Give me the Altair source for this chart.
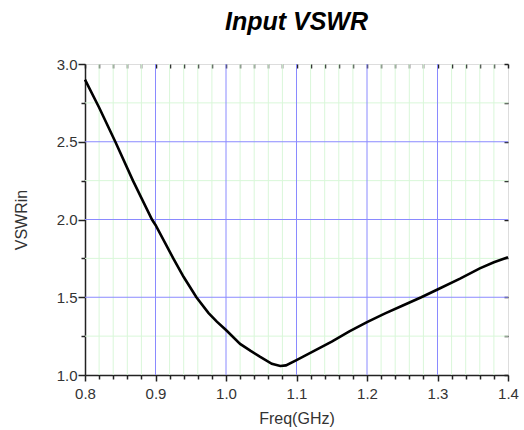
import altair as alt
import pandas as pd

freq = [0.80, 0.82, 0.843, 0.868, 0.895, 0.90, 0.925, 0.94, 0.958, 0.975, 0.987,
        1.00, 1.02, 1.035, 1.048, 1.065, 1.077, 1.085, 1.10, 1.125, 1.15, 1.175,
        1.20, 1.225, 1.25, 1.277, 1.30, 1.332, 1.36, 1.38, 1.40]
vswr = [2.90, 2.72, 2.50, 2.25, 2.00, 1.965, 1.752, 1.63, 1.50, 1.40, 1.343,
        1.289, 1.20, 1.155, 1.118, 1.072, 1.058, 1.062, 1.096, 1.155, 1.215, 1.28,
        1.34, 1.395, 1.445, 1.50, 1.55, 1.62, 1.686, 1.725, 1.757]

x_ticks = [0.80, 0.82, 0.84, 0.86, 0.88, 0.90, 0.92, 0.94, 0.96, 0.98,
           1.00, 1.02, 1.04, 1.06, 1.08, 1.10, 1.12, 1.14, 1.16, 1.18,
           1.20, 1.22, 1.24, 1.26, 1.28, 1.30, 1.32, 1.34, 1.36, 1.38, 1.40]
y_ticks = [1.0, 1.25, 1.5, 1.75, 2.0, 2.25, 2.5, 2.75, 3.0]
x_major_grid = [0.9, 1.0, 1.1, 1.2, 1.3]
y_major_grid = [1.5, 2.0, 2.5]
x_minor_grid = [v for v in x_ticks if v not in (0.8, 0.9, 1.0, 1.1, 1.2, 1.3, 1.4)]
y_minor_grid = [1.25, 1.75, 2.25, 2.75]

df = pd.DataFrame({"f": freq, "v": vswr})

FONT = "Liberation Sans"
BLUE = "#8a8aff"
GREEN = "#d9f7d9"
x_major = "abs(datum.value*10 - round(datum.value*10)) < 0.000001"
y_major = "abs(datum.value*2 - round(datum.value*2)) < 0.000001"

xscale = alt.Scale(domain=[0.8, 1.4], nice=False, zero=False)
yscale = alt.Scale(domain=[1.0, 3.0], nice=False, zero=False)

minor_x = alt.Chart(pd.DataFrame({"g": x_minor_grid})).mark_rule(
    color=GREEN, strokeWidth=1).encode(x=alt.X("g:Q", scale=xscale, axis=None))
minor_y = alt.Chart(pd.DataFrame({"g": y_minor_grid})).mark_rule(
    color=GREEN, strokeWidth=1).encode(y=alt.Y("g:Q", scale=yscale, axis=None))
major_x = alt.Chart(pd.DataFrame({"g": x_major_grid})).mark_rule(
    color=BLUE, strokeWidth=1).encode(x=alt.X("g:Q", scale=xscale, axis=None))
major_y = alt.Chart(pd.DataFrame({"g": y_major_grid})).mark_rule(
    color=BLUE, strokeWidth=1).encode(y=alt.Y("g:Q", scale=yscale, axis=None))

line = alt.Chart(df).mark_line(color="black", strokeWidth=2.6).encode(
    x=alt.X("f:Q", scale=xscale, title="Freq(GHz)",
            axis=alt.Axis(values=x_ticks, orient="bottom",
                          labelExpr=f"{x_major} ? format(datum.value, '.1f') : ''",
                          labelOverlap=False, labelFlush=False, grid=False,
                          tickSize={"condition": {"test": x_major, "value": 6}, "value": 4},
                          tickColor="#222", tickWidth=1.5,
                          domainColor="#222", domainWidth=1.5,
                          labelFont=FONT, labelFontSize=15, labelColor="#333", labelPadding=5,
                          titleFont=FONT, titleFontSize=16, titleFontWeight="normal",
                          titleColor="#333", titlePadding=9)),
    y=alt.Y("v:Q", scale=yscale, title="VSWRin",
            axis=alt.Axis(values=y_ticks, orient="left",
                          labelExpr=f"{y_major} ? format(datum.value, '.1f') : ''",
                          labelOverlap=False, labelFlush=False, grid=False,
                          tickSize={"condition": {"test": y_major, "value": 7}, "value": 4},
                          tickColor="#222", tickWidth=1.5,
                          domainColor="#222", domainWidth=1.5,
                          labelFont=FONT, labelFontSize=15, labelColor="#333", labelPadding=1,
                          titleFont=FONT, titleFontSize=16, titleFontWeight="normal",
                          titleColor="#333", titlePadding=27)),
)

mirror = alt.Chart(df).mark_line(opacity=0).encode(
    x=alt.X("f:Q", scale=xscale, title=None,
            axis=alt.Axis(values=x_ticks, orient="top", labels=False, grid=False,
                          domain=False, tickSize=4, offset=-4,
                          tickColor="#222", tickWidth=1.5)),
    y=alt.Y("v:Q", scale=yscale, title=None,
            axis=alt.Axis(values=y_ticks, orient="right", labels=False, grid=False,
                          domain=False, tickSize=4, offset=-4,
                          tickColor="#222", tickWidth=1.5)),
)

chart = alt.layer(minor_x, minor_y, major_x, major_y, line, mirror).resolve_axis(
    x="independent", y="independent").properties(
    width=423, height=311,
    autosize=alt.AutoSizeParams(type="none"),
    padding={"left": 85, "top": 64, "right": 16, "bottom": 55},
    title=alt.TitleParams("Input VSWR", font=FONT, fontSize=25, fontWeight="bold",
                          fontStyle="italic", color="black", offset=22, anchor="middle"),
).configure_view(stroke="#222", strokeWidth=1.5).configure(background="white")

chart.save("out.html", embed_options={"renderer": "svg", "actions": False})
